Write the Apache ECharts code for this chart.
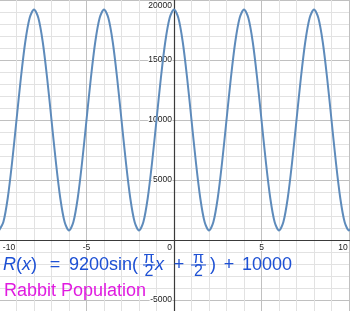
<!DOCTYPE html>
<html>
<head>
<meta charset="utf-8">
<script src="https://cdn.jsdelivr.net/npm/echarts@6/dist/echarts.min.js"></script>
<style>
html,body{margin:0;padding:0;background:#fff;}
#c{width:350px;height:311px;}
</style>
</head>
<body>
<div id="c"></div>
<script>
// x values (step 0.25) and R(x)
var xValues = [
 -10,-9.75,-9.5,-9.25,-9,-8.75,-8.5,-8.25,-8,-7.75,-7.5,-7.25,-7,-6.75,-6.5,-6.25,
 -6,-5.75,-5.5,-5.25,-5,-4.75,-4.5,-4.25,-4,-3.75,-3.5,-3.25,-3,-2.75,-2.5,-2.25,
 -2,-1.75,-1.5,-1.25,-1,-0.75,-0.5,-0.25,0,0.25,0.5,0.75,1,1.25,1.5,1.75,
 2,2.25,2.5,2.75,3,3.25,3.5,3.75,4,4.25,4.5,4.75,5,5.25,5.5,5.75,
 6,6.25,6.5,6.75,7,7.25,7.5,7.75,8,8.25,8.5,8.75,9,9.25,9.5,9.75,
 10,10.25
];
var rabbitValues = [
 800,1500,3500,6500,10000,13500,16500,18500,19200,18500,16500,13500,10000,6500,3500,1500,
 800,1500,3500,6500,10000,13500,16500,18500,19200,18500,16500,13500,10000,6500,3500,1500,
 800,1500,3500,6500,10000,13500,16500,18500,19200,18500,16500,13500,10000,6500,3500,1500,
 800,1500,3500,6500,10000,13500,16500,18500,19200,18500,16500,13500,10000,6500,3500,1500,
 800,1500,3500,6500,10000,13500,16500,18500,19200,18500,16500,13500,10000,6500,3500,1500,
 800,1500
];
var xTickLabels = ['-10','-5','0','5','10'];
var yTickLabels = ['-5000','5000','10000','15000','20000'];
var subtitle = 'Rabbit Population';

var blue = '#1d50d4';
var pts = xValues.map(function(x,i){ return [x, rabbitValues[i]]; });

var chart = echarts.init(document.getElementById('c'), null, {renderer:'canvas'});
var lbl = {fontSize:8.5, fontFamily:'Liberation Sans, Arial', color:'#222', textBorderColor:'#fff', textBorderWidth:2};
function rs(p){ return Object.assign({padding:p}, lbl); }

chart.setOption({
  animation:false,
  backgroundColor:'#fff',
  grid:[
    {left:-1, right:-16.5, top:0, bottom:-49, containLabel:false, outerBoundsMode:'none'},
    {left:-1, right:-16.5, top:0, bottom:71, containLabel:false, outerBoundsMode:'none'},
    {left:174, right:0, top:0, bottom:-49, containLabel:false, outerBoundsMode:'none'}
  ],
  xAxis:[
    {
      gridIndex:0, type:'value', min:-10, max:11, interval:5,
      axisLine:{onZero:true, lineStyle:{color:'#3a3a3a', width:1.2}},
      axisTick:{show:false}, axisLabel:{show:false},
      splitLine:{show:true, lineStyle:{color:'#c0c0c0', width:1}},
      minorTick:{show:false, splitNumber:5},
      minorSplitLine:{show:true, lineStyle:{color:'#e2e2e2', width:1}}
    },
    {
      gridIndex:1, type:'value', min:-10, max:11, interval:5, position:'bottom',
      axisLine:{show:false, onZero:false}, axisTick:{show:false}, splitLine:{show:false},
      axisLabel:Object.assign({
        margin:3,
        formatter:function(v){
          var s = String(v);
          if (xTickLabels.indexOf(s) < 0) return '';
          if (v === -10) return '{l|' + s + '}';
          if (v === 0) return '{z|' + s + '}';
          if (v === 10) return '{r|' + s + '}';
          return s;
        },
        rich:{ l:rs([0,0,0,20]), z:rs([0,9,0,0]), r:rs([0,12,0,0]) }
      }, lbl)
    },
    {
      gridIndex:2, type:'value', min:0, max:1, show:false
    }
  ],
  yAxis:[
    {
      gridIndex:0, type:'value', min:-10000, max:20000, interval:5000,
      axisLine:{show:true, onZero:true, lineStyle:{color:'#3a3a3a', width:1.2}},
      axisTick:{show:false}, axisLabel:{show:false},
      splitLine:{show:true, lineStyle:{color:'#c0c0c0', width:1}},
      minorTick:{show:false, splitNumber:5},
      minorSplitLine:{show:true, lineStyle:{color:'#e2e2e2', width:1}}
    },
    {
      gridIndex:1, type:'value', min:0, max:1, show:false
    },
    {
      gridIndex:2, type:'value', min:-10000, max:20000, interval:5000, position:'left',
      axisLine:{show:false, onZero:false}, axisTick:{show:false}, splitLine:{show:false},
      axisLabel:Object.assign({
        margin:2,
        formatter:function(v){
          var s = String(v);
          if (yTickLabels.indexOf(s) < 0) return '';
          if (v === 20000) return '{t|' + s + '}';
          return s;
        },
        rich:{ t:rs([12,0,0,0]) }
      }, lbl)
    }
  ],
  series:[{
    type:'line', xAxisIndex:0, yAxisIndex:0, data:pts, showSymbol:false, smooth:0.3,
    lineStyle:{color:'#5e8bbb', width:2},
    z:3
  }],
  graphic:[
    {type:'text', x:3, y:265, z:10, style:{
      text:'{i|R}({i|x})', fill:blue, font:'18px "Liberation Sans"', verticalAlign:'middle',
      rich:{i:{fontStyle:'italic', fontSize:18, fill:blue, fontFamily:'Liberation Sans'}}
    }},
    {type:'text', x:55, y:265, z:10, style:{text:'=', fill:blue, font:'18px "Liberation Sans"', align:'center', verticalAlign:'middle'}},
    {type:'text', x:69, y:265, z:10, style:{text:'9200sin(', fill:blue, font:'18px "Liberation Sans"', verticalAlign:'middle'}},
    {type:'text', x:149, y:258.5, z:10, style:{text:'π', fill:blue, font:'16px "Liberation Sans"', align:'center', verticalAlign:'middle'}},
    {type:'rect', shape:{x:143, y:264.5, width:12, height:1}, style:{fill:blue}, z:10},
    {type:'text', x:149, y:272, z:10, style:{text:'2', fill:blue, font:'16px "Liberation Sans"', align:'center', verticalAlign:'middle'}},
    {type:'text', x:155, y:265, z:10, style:{text:'x', fill:blue, font:'italic 18px "Liberation Sans"', verticalAlign:'middle'}},
    {type:'text', x:179, y:265, z:10, style:{text:'+', fill:blue, font:'18px "Liberation Sans"', align:'center', verticalAlign:'middle'}},
    {type:'text', x:198.5, y:258.5, z:10, style:{text:'π', fill:blue, font:'16px "Liberation Sans"', align:'center', verticalAlign:'middle'}},
    {type:'rect', shape:{x:191, y:264.5, width:15, height:1}, style:{fill:blue}, z:10},
    {type:'text', x:198.5, y:272, z:10, style:{text:'2', fill:blue, font:'16px "Liberation Sans"', align:'center', verticalAlign:'middle'}},
    {type:'text', x:210, y:265, z:10, style:{text:')', fill:blue, font:'18px "Liberation Sans"', verticalAlign:'middle'}},
    {type:'text', x:229, y:265, z:10, style:{text:'+', fill:blue, font:'18px "Liberation Sans"', align:'center', verticalAlign:'middle'}},
    {type:'text', x:242, y:265, z:10, style:{text:'10000', fill:blue, font:'18px "Liberation Sans"', verticalAlign:'middle'}},
    {type:'text', x:4, y:291, z:10, style:{text:subtitle, fill:'#e01ce0', font:'18px "Liberation Sans"', verticalAlign:'middle'}}
  ]
});
</script>
</body>
</html>
